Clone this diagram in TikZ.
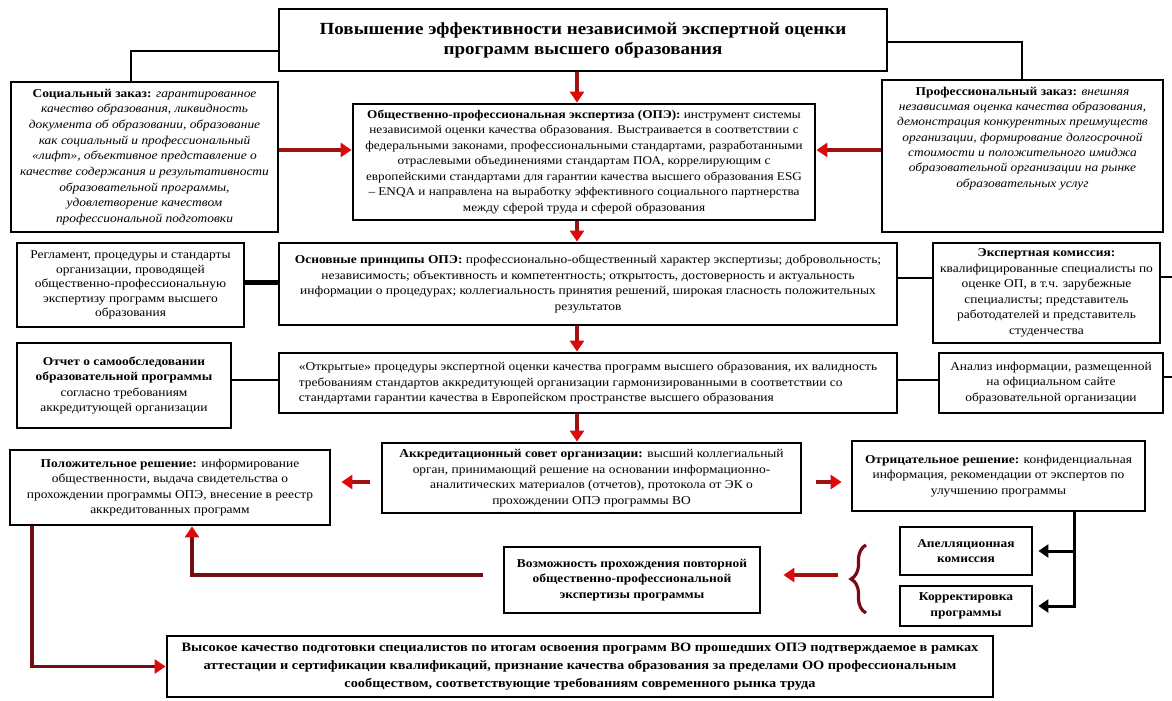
\documentclass[tikz,border=0pt]{standalone}
\usepackage{fontspec}
\setmainfont{Liberation Serif}[FakeStretch=1.12]
\usetikzlibrary{arrows.meta,decorations.pathreplacing,calc}
\definecolor{shaftred}{RGB}{160,18,18}
\definecolor{headred}{RGB}{220,10,10}
\definecolor{maroonline}{RGB}{120,12,18}
\tikzset{
 box/.style={draw=black, line width=2.8pt, fill=white, align=center, inner sep=2pt, font=\fontsize{12}{15.5}\selectfont},
 wh/.style 2 args={minimum width=#1pt, minimum height=#2pt},
 conn/.style={draw=black, line width=2.6pt},
 thickconn/.style={draw=black, line width=5pt},
 redarrow/.style={draw=shaftred, line width=3.5pt, -{Triangle[width=14pt,length=11pt,color=headred]}},
 maroonarrow/.style={draw=maroonline, line width=3.8pt, -{Triangle[width=14pt,length=11pt,color=headred]}},
 blackarrow/.style={draw=black, line width=3pt, -{Triangle[width=13pt,length=10pt]}},
 bracestyle/.style={draw=maroonline, line width=3.2pt, decorate, decoration={brace, amplitude=15pt}},
}
\begin{document}
\begin{tikzpicture}[x=1pt,y=-1pt]
\useasboundingbox (0,0) rectangle (1172,701);
\fill[white] (0,0) rectangle (1172,701);

\node[box, wh={608}{62}, font=\fontsize{17}{20}\selectfont\bfseries] (title) at (583,40)
 {Повышение эффективности независимой экспертной оценки\\программ высшего образования};

\node[box, wh={267}{150}, font=\fontsize{12}{15.7}\selectfont\itshape] (social) at (144.5,157)
 {{\bfseries\upshape Социальный заказ:} гарантированное\\качество образования, ликвидность\\документа об образовании, образование\\как социальный и профессиональный\\«лифт», объективное представление о\\качестве содержания и результативности\\образовательной программы,\\удовлетворение качеством\\профессиональной подготовки};

\node[box, wh={462}{116}, font=\fontsize{11.8}{15.5}\selectfont] (ope) at (584,162)
 {{\bfseries Общественно-профессиональная экспертиза (ОПЭ):} инструмент системы\\независимой оценки качества образования. Выстраивается в соответствии с\\федеральными законами, профессиональными стандартами, разработанными\\отраслевыми объединениями стандартам ПОА, коррелирующим с\\европейскими стандартами для гарантии качества высшего образования ESG\\– ENQA и направлена на выработку эффективного социального партнерства\\между сферой труда и сферой образования};

\node[box, wh={281}{152}, font=\fontsize{12}{15.3}\selectfont\itshape] (prof) at (1022.5,156)
 {\parbox[c][146pt][t]{275pt}{\centering\vspace*{4pt}{\bfseries\upshape Профессиональный заказ:} внешняя\\независимая оценка качества образования,\\демонстрация конкурентных преимуществ\\организации, формирование долгосрочной\\стоимости и положительного имиджа\\образовательной организации на рынке\\образовательных услуг}};

\node[box, wh={227}{84}, font=\fontsize{12}{14.5}\selectfont] (regl) at (130.5,285)
 {Регламент, процедуры и стандарты\\организации, проводящей\\общественно-профессиональную\\экспертизу программ высшего\\образования};

\node[box, wh={618}{82}] (princ) at (588,284)
 {{\bfseries Основные принципы ОПЭ:} профессионально-общественный характер экспертизы; добровольность;\\независимость; объективность и компетентность; открытость, достоверность и актуальность\\информации о процедурах; коллегиальность принятия решений, широкая гласность положительных\\результатов};

\node[box, wh={227}{100}] (expert) at (1046.5,293)
 {{\bfseries Экспертная комиссия:}\\квалифицированные специалисты по\\оценке ОП, в т.ч. зарубежные\\специалисты; представитель\\работодателей и представитель\\студенчества};

\node[box, wh={214}{85}] (otchet) at (124,385.5)
 {{\bfseries Отчет о самообследовании}\\{\bfseries образовательной программы}\\согласно требованиям\\аккредитующей организации};

\node[box, wh={618}{60}, align=left] (open) at (588,383)
 { «Открытые» процедуры экспертной оценки качества программ высшего образования, их валидность\\требованиям стандартов аккредитующей организации гармонизированными в соответствии со\\стандартами гарантии качества в Европейском пространстве высшего образования};

\node[box, wh={224}{60}] (anal) at (1051,383)
 {Анализ информации, размещенной\\на официальном сайте\\образовательной организации};

\node[box, wh={419}{70}] (accred) at (591.5,478)
 {{\bfseries Аккредитационный совет организации:} высший коллегиальный\\орган, принимающий решение на основании информационно-\\аналитических материалов (отчетов), протокола от ЭК о\\прохождении ОПЭ программы ВО};

\node[box, wh={320}{75}] (pos) at (170,487.5)
 {{\bfseries Положительное решение:} информирование\\общественности, выдача свидетельства о\\прохождении программы ОПЭ, внесение в реестр\\аккредитованных программ};

\node[box, wh={293}{70}] (neg) at (998.5,476)
 {{\bfseries Отрицательное решение:} конфиденциальная\\информация, рекомендации от экспертов по\\улучшению программы};

\node[box, wh={132}{48}, font=\fontsize{12}{15.5}\selectfont\bfseries] (apell) at (966,551)
 {Апелляционная\\комиссия};

\node[box, wh={132}{40}, font=\fontsize{12}{15.5}\selectfont\bfseries] (korr) at (966,606)
 {Корректировка\\программы};

\node[box, wh={256}{66}, font=\fontsize{12}{15.5}\selectfont\bfseries] (vozm) at (632,580)
 {Возможность прохождения повторной\\общественно-профессиональной\\экспертизы программы};

\node[box, wh={826}{61}, font=\fontsize{12.8}{18}\selectfont\bfseries] (final) at (580,666.5)
 {Высокое качество подготовки специалистов по итогам освоения программ ВО прошедших ОПЭ подтверждаемое в рамках\\аттестации и сертификации квалификаций, признание качества образования за пределами ОО профессиональным\\сообществом, соответствующие требованиям современного рынка труда};

\coordinate (lc) at (131,51);
\coordinate (rc) at (1022,42);
\coordinate (ya) at (0,150);
\coordinate (cx) at (577,0);
\coordinate (yb) at (0,282);
\coordinate (yb2) at (0,278);
\coordinate (es) at (1172,277);
\coordinate (yo) at (0,380);
\coordinate (as) at (1172,377);
\coordinate (yc) at (0,482);
\coordinate (vx) at (1074,0);
\coordinate (btop) at (866,545);
\coordinate (bbot) at (866,613);
\coordinate (btip) at (838,575);
\coordinate (px) at (192,575);
\coordinate (lx) at (32,663);

\draw[conn] (title.west |- lc) -| (social.north -| lc);
\draw[conn] (title.east |- rc) -| (prof.north -| rc);
\draw[redarrow] (social.east |- ya) -- (ope.west |- ya);
\draw[redarrow] (prof.west |- ya) -- (ope.east |- ya);
\draw[redarrow] (title.south -| cx) -- (ope.north -| cx);
\draw[redarrow] (ope.south -| cx) -- (princ.north -| cx);
\draw[redarrow] (princ.south -| cx) -- (open.north -| cx);
\draw[redarrow] (open.south -| cx) -- (accred.north -| cx);
\draw[thickconn] (regl.east |- yb) -- (princ.west |- yb);
\draw[conn] (princ.east |- yb2) -- (expert.west |- yb2);
\draw[conn] (expert.east |- es) -- (es);
\draw[conn] (otchet.east |- yo) -- (open.west |- yo);
\draw[conn] (open.east |- yo) -- (anal.west |- yo);
\draw[conn] (anal.east |- as) -- (as);
\draw[redarrow, shorten <=11pt, shorten >=10pt] (accred.west |- yc) -- (pos.east |- yc);
\draw[redarrow, shorten <=14pt, shorten >=9pt] (accred.east |- yc) -- (neg.west |- yc);
\draw[blackarrow, shorten >=5pt] (neg.south -| vx) |- (korr.east);
\draw[blackarrow, shorten >=5pt] (vx |- apell.east) -- (apell.east);
\draw[bracestyle] (bbot) -- (btop);
\draw[redarrow, shorten >=22pt] (btip) -- (vozm.east |- btip);
\draw[maroonarrow, shorten <=20pt] (vozm.west |- px) -| (pos.south -| px);
\draw[maroonarrow] (pos.south -| lx) |- (final.west);
\end{tikzpicture}
\end{document}
